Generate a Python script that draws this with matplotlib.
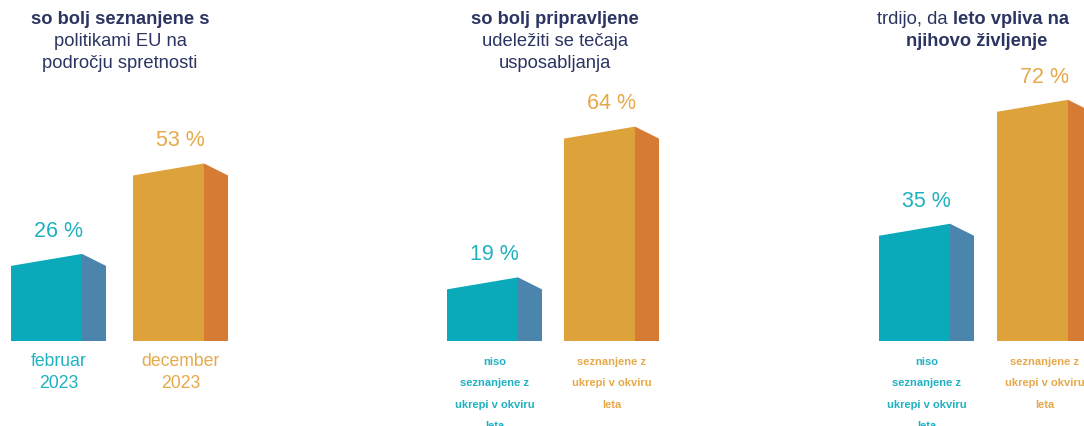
import matplotlib.pyplot as plt
from matplotlib.patches import Polygon

# data
titles = [
    [("so bolj seznanjene s", "bold"), ("politikami EU na", "normal"), ("področju spretnosti", "normal")],
    [("so bolj pripravljene", "bold"), ("udeležiti se tečaja", "normal"), ("usposabljanja", "normal")],
]
title3_line1 = [("trdijo, da ", "normal"), ("leto vpliva na", "bold")]
title3_line2 = "njihovo življenje"

values_teal = [26, 19, 35]
values_orange = [53, 64, 72]
labels_teal = [["februar", "2023"],
               ["niso", "seznanjene z", "ukrepi v okviru", "leta"],
               ["niso", "seznanjene z", "ukrepi v okviru", "leta"]]
labels_orange = [["december", "2023"],
                 ["seznanjene z", "ukrepi v okviru", "leta"],
                 ["seznanjene z", "ukrepi v okviru", "leta"]]

# layout (pixels)
W, H = 1084, 427
K = 3.35           # px per percent
BASE = 85          # baseline height from bottom
teal_x = [11, 447, 879]
orange_x = [133, 564, 997]
FRONT = 71
SIDE = 24
SLANT = 12 / K

teal_front, teal_side = "#0aaabb", "#4b85ad"
orange_front, orange_side = "#dea23a", "#d57b34"
teal_text, orange_text = "#1fb1c0", "#e6a94a"
navy = "#2c3562"
TFS = 13.2

fig = plt.figure(figsize=(W / 100, H / 100), dpi=100)
ax = fig.add_axes([0, 0, 1, 1])
ax.set_xlim(0, W)
ax.set_ylim(-BASE / K, (H - BASE) / K)
ax.axis("off")


def py(ypx):
    # pixel-from-top to data y
    return (H - BASE - ypx) / K


def bar3d(x0, v, c_front, c_side):
    x1 = x0 + FRONT
    x2 = x1 + SIDE
    ax.add_patch(Polygon([(x0, 0), (x0, v - SLANT), (x1, v), (x1, 0)],
                         closed=True, facecolor=c_front, edgecolor="none"))
    ax.add_patch(Polygon([(x1, 0), (x1, v), (x2, v - SLANT), (x2, 0)],
                         closed=True, facecolor=c_side, edgecolor="none"))
    return (x0 + x2) / 2


for i in range(3):
    for x0, v, cf, cs, ct, lab in [
        (teal_x[i], values_teal[i], teal_front, teal_side, teal_text, labels_teal[i]),
        (orange_x[i], values_orange[i], orange_front, orange_side, orange_text, labels_orange[i]),
    ]:
        cx = bar3d(x0, v, cf, cs)
        ax.annotate(f"{v} %", (cx, v), xytext=(0, 17), textcoords="offset points",
                    ha="center", va="center", fontsize=15.5, color=ct,
                    family="Liberation Sans")
        for j, line in enumerate(lab):
            if i == 0:
                ax.text(cx, py(362 + j * 22), line, ha="center", va="center",
                        fontsize=12.7, color=ct, family="Liberation Sans")
            else:
                ax.text(cx, py(362 + j * 21.5), line, ha="center", va="center",
                        fontsize=8, color=ct, fontweight="bold",
                        family="Liberation Sans")

# titles
title_cx = [120, 555]
for cx, lines in zip(title_cx, titles):
    for j, (txt, w) in enumerate(lines):
        fig.text(cx / W, 1 - (20 + j * 22) / H, txt, ha="center", va="center",
                 fontsize=TFS, fontweight=w, color=navy, family="Liberation Sans")

split = 953
fig.text(split / W, 1 - 20 / H, title3_line1[0][0], ha="right", va="center",
         fontsize=TFS, fontweight=title3_line1[0][1], color=navy, family="Liberation Sans")
fig.text(split / W, 1 - 20 / H, title3_line1[1][0], ha="left", va="center",
         fontsize=TFS, fontweight=title3_line1[1][1], color=navy, family="Liberation Sans")
fig.text(977 / W, 1 - 42 / H, title3_line2, ha="center", va="center",
         fontsize=TFS, fontweight="bold", color=navy, family="Liberation Sans")

fig.savefig("out.png", dpi=100)
